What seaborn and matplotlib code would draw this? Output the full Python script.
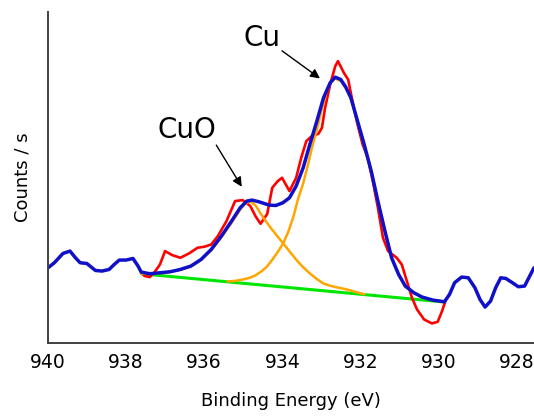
import seaborn as sns
import pandas as pd
from matplotlib import pyplot as plt

# binding energy (eV) and intensity (arb. counts/s)
envelope_ev = [939.99, 939.83, 939.61, 939.43, 939.29, 939.17, 939.00, 938.78, 938.61, 938.43,
               938.30, 938.17, 938.00, 937.82, 937.69, 937.61, 937.39, 937.13, 936.87, 936.61,
               936.34, 936.08, 935.82, 935.56, 935.30, 935.08, 934.91, 934.78, 934.60, 934.34,
               934.17, 933.99, 933.82, 933.65, 933.47, 933.30, 933.12, 932.95, 932.78, 932.65,
               932.51, 932.38, 932.25, 932.08, 931.91, 931.73, 931.56, 931.38, 931.21, 931.03,
               930.86, 930.64, 930.43, 930.16, 929.86, 929.73, 929.60, 929.42, 929.25, 929.08,
               928.95, 928.82, 928.68, 928.55, 928.42, 928.29, 928.12, 927.97, 927.81, 927.68,
               927.57]
envelope_cps = [75.0, 80.0, 89.3, 91.7, 85.0, 80.0, 79.3, 72.3, 71.7, 73.3,
                78.3, 82.7, 82.7, 84.3, 76.7, 70.7, 69.0, 70.0, 71.0, 73.3,
                76.7, 83.3, 93.3, 106.7, 121.7, 135.0, 141.7, 142.7, 141.0, 137.7,
                137.3, 140.0, 145.0, 156.7, 175.0, 198.3, 221.7, 245.0, 260.0, 265.7,
                263.3, 255.7, 245.0, 221.7, 198.3, 171.7, 141.7, 111.7, 85.0, 68.3,
                56.7, 50.0, 45.7, 42.7, 41.0, 48.3, 60.0, 65.7, 65.0, 55.0,
                43.3, 35.7, 41.7, 55.0, 65.0, 64.3, 60.0, 56.0, 56.7, 66.7,
                75.0]

raw_ev = [937.61, 937.52, 937.39, 937.26, 937.13, 937.00, 936.82, 936.61, 936.39, 936.17,
          936.00, 935.82, 935.65, 935.43, 935.21, 935.02, 934.82, 934.69, 934.56, 934.39,
          934.26, 934.12, 934.01, 933.82, 933.65, 933.52, 933.39, 933.25, 933.08, 932.99,
          932.91, 932.78, 932.65, 932.58, 932.43, 932.32, 932.21, 932.08, 931.95, 931.82,
          931.69, 931.56, 931.43, 931.30, 931.08, 930.95, 930.82, 930.69, 930.56, 930.38,
          930.18, 930.03, 929.92, 929.82]
raw_cps = [70.0, 66.7, 65.7, 71.0, 78.3, 91.7, 87.7, 85.0, 89.3, 95.0,
           96.0, 98.3, 106.7, 121.7, 141.7, 142.7, 136.7, 126.7, 119.0, 128.7,
           155.0, 161.7, 165.0, 151.7, 165.0, 185.0, 201.7, 206.7, 209.0, 215.0,
           235.0, 258.3, 276.7, 281.7, 270.0, 263.3, 241.7, 218.3, 198.3, 185.0,
           161.7, 135.0, 105.0, 91.7, 85.0, 78.3, 61.7, 45.0, 33.3, 23.3,
           19.3, 21.0, 31.7, 43.3]

cuo_ev = [937.61, 937.13, 936.87, 936.61, 936.34, 936.08, 935.82, 935.56, 935.30, 935.08,
          934.98, 934.88, 934.80, 934.68, 934.57, 934.45, 934.32, 934.15, 933.98, 933.81,
          933.64, 933.47, 933.30, 933.13, 932.96, 932.78, 932.61, 932.36, 932.10, 931.90]
cuo_cps = [69.0, 69.8, 70.8, 73.0, 76.3, 82.8, 92.5, 105.5, 120.0, 133.0,
           138.0, 140.8, 141.0, 137.0, 130.0, 123.0, 116.0, 107.5, 99.4, 91.0,
           82.7, 75.5, 69.4, 64.0, 59.4, 57.0, 55.4, 53.4, 50.5, 48.5]

cu_ev = [935.40, 935.20, 935.00, 934.85, 934.70, 934.55, 934.40, 934.25, 934.10, 933.98,
         933.85, 933.72, 933.60, 933.48, 933.36, 933.24, 933.12, 933.00, 932.88, 932.76,
         932.66, 932.51, 932.38, 932.25, 932.08, 931.91, 931.73, 931.56, 931.38, 931.21,
         931.03, 930.86, 930.64, 930.43, 930.16, 929.86]
cu_cps = [61.3, 61.9, 63.4, 64.8, 67.2, 71.0, 76.0, 83.5, 92.0, 99.4,
          111.0, 126.0, 144.0, 158.0, 176.0, 196.0, 213.0, 233.0, 250.0, 261.0,
          264.4, 262.0, 254.5, 244.0, 220.7, 197.5, 171.0, 141.0, 111.2, 84.5,
          67.9, 56.3, 49.7, 45.4, 42.5, 40.9]

background_ev = [937.61, 929.86]
background_cps = [69.0, 40.7]


def main():
    sns.set_style("white")
    plt.rcParams["font.family"] = ["DejaVu Sans"]
    plt.rcParams["text.color"] = "black"
    plt.rcParams["axes.labelcolor"] = "black"
    plt.rcParams["xtick.color"] = "black"

    fig = plt.figure(figsize=(5.34, 4.19), dpi=100)
    ax = fig.add_axes([0.0893, 0.182, 0.9107, 0.789])

    bg = pd.DataFrame({"ev": background_ev, "cps": background_cps})
    raw = pd.DataFrame({"ev": raw_ev, "cps": raw_cps})
    cuo = pd.DataFrame({"ev": cuo_ev, "cps": cuo_cps})
    cu = pd.DataFrame({"ev": cu_ev, "cps": cu_cps})
    env = pd.DataFrame({"ev": envelope_ev, "cps": envelope_cps})

    sns.lineplot(data=bg, x="ev", y="cps", color="#00e600", lw=2.2, ax=ax)
    sns.lineplot(data=raw, x="ev", y="cps", color="#ff0000", lw=1.9, ax=ax)
    sns.lineplot(data=cuo, x="ev", y="cps", color="#ffa500", lw=1.8, ax=ax)
    sns.lineplot(data=cu, x="ev", y="cps", color="#ffa500", lw=1.8, ax=ax)
    sns.lineplot(data=env, x="ev", y="cps", color="#1010c8", lw=2.5, ax=ax)

    ax.set_xlim(940, 927.57)
    ax.set_ylim(0, 330.7)
    ax.set_xticks([940, 938, 936, 934, 932, 930, 928])
    ax.set_yticks([])
    ax.tick_params(axis="x", direction="inout", length=9, width=1.2,
                   color="#404040", labelsize=13.5, pad=3)
    for side in ["top", "right"]:
        ax.spines[side].set_visible(False)
    for side in ["left", "bottom"]:
        ax.spines[side].set_color("#404040")
        ax.spines[side].set_linewidth(1.4)

    ax.set_xlabel("Binding Energy (eV)", fontsize=13, labelpad=14)
    ax.set_ylabel("Counts / s", fontsize=13, labelpad=12)

    ax.text(936.43, 212.7, "CuO", fontsize=20, ha="center", va="center")
    ax.text(934.52, 304.4, "Cu", fontsize=20, ha="center", va="center")
    arrow = dict(arrowstyle="-|>", color="black", lw=1.0, mutation_scale=14,
                 shrinkA=0, shrinkB=0)
    ax.annotate("", xy=(935.04, 156.0), xytext=(935.69, 197.7), arrowprops=arrow)
    ax.annotate("", xy=(933.04, 264.4), xytext=(934.01, 292.0), arrowprops=arrow)

    plt.savefig("out.png", dpi=100)


if __name__ == "__main__":
    main()
